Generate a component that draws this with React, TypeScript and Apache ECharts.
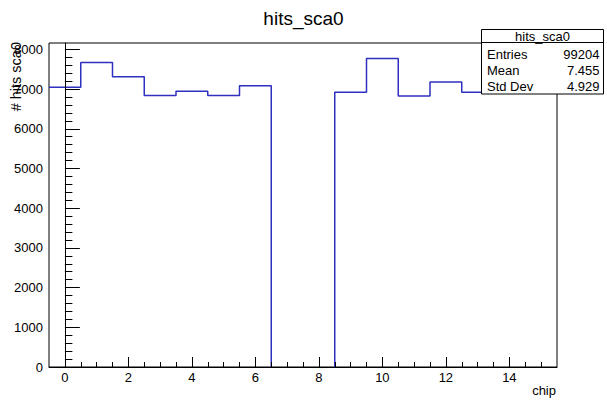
import React, { useEffect, useRef } from "react";
import * as echarts from "echarts";

// Histogram bins (chip number) and their contents
const chips = [0, 1, 2, 3, 4, 5, 6, 7, 8, 9, 10, 11, 12, 13, 14, 15];
const hits = [7048, 7671, 7309, 6835, 6947, 6835, 7081, 0, 0, 6922, 7772, 6828, 7175, 6922, 6900, 6960];

// Axis tick labels
const xTickLabels = [0, 2, 4, 6, 8, 10, 12, 14];
const yTickLabels = [0, 1000, 2000, 3000, 4000, 5000, 6000, 7000, 8000];

// Stats box
const statsTitle = "hits_sca0";
const statsNames = ["Entries", "Mean", "Std Dev"];
const statsValues = ["99204", "7.455", "4.929"];

const X_MIN = -0.5;
const X_MAX = 15.5;
const Y_MAX = 8160;

const FONT = "'Liberation Sans', Arial, Helvetica, sans-serif";

export default function App() {
  const ref = useRef<HTMLDivElement>(null);

  useEffect(() => {
    if (!ref.current) return;
    const chart = echarts.init(ref.current, undefined, { renderer: "svg" });

    // Step outline built from bin edges; empty bins lie on the axis (hidden under it)
    const stepData: any[] = [];
    chips.forEach((c, i) => {
      const v = hits[i];
      if (v === 0) {
        const prevZero = i > 0 && hits[i - 1] === 0;
        const nextZero = i < hits.length - 1 && hits[i + 1] === 0;
        if (!prevZero) stepData.push([c - 0.5, 0]);
        stepData.push([c, "-"]);
        if (!nextZero) stepData.push([c + 0.5, 0]);
      } else {
        stepData.push([c - 0.5, v]);
        stepData.push([c + 0.5, v]);
      }
    });

    const xMinor: number[] = [];
    for (let v = 0; v <= 15; v += 0.5) {
      if (!xTickLabels.includes(v)) xMinor.push(v);
    }
    const yMinor: number[] = [];
    for (let v = 0; v <= Y_MAX; v += 200) {
      if (v % 1000 !== 0) yMinor.push(v);
    }

    const statsGraphics: any[] = [
      {
        type: "rect",
        z: 100,
        shape: { x: 481.5, y: 29.5, width: 122, height: 64.5 },
        style: { fill: "#fff", stroke: "#000", lineWidth: 1 },
      },
      {
        type: "line",
        z: 101,
        shape: { x1: 481.5, y1: 42.5, x2: 603.5, y2: 42.5 },
        style: { stroke: "#000", lineWidth: 1 },
      },
      {
        type: "text",
        z: 101,
        x: 542.5,
        y: 36.5,
        style: {
          text: statsTitle,
          fill: "#000",
          font: `13px ${FONT}`,
          textAlign: "center",
          textVerticalAlign: "middle",
        },
      },
    ];
    const rowY = [54.5, 70.5, 86.5];
    statsNames.forEach((n, i) => {
      statsGraphics.push({
        type: "text",
        z: 101,
        x: 487,
        y: rowY[i],
        style: { text: n, fill: "#000", font: `13px ${FONT}`, textAlign: "left", textVerticalAlign: "middle" },
      });
      statsGraphics.push({
        type: "text",
        z: 101,
        x: 599.5,
        y: rowY[i],
        style: { text: statsValues[i], fill: "#000", font: `13px ${FONT}`, textAlign: "right", textVerticalAlign: "middle" },
      });
    });

    const plain = (v: number) => String(v);

    chart.setOption({
      animation: false,
      backgroundColor: "#fff",
      grid: {
        left: 49,
        right: 50,
        top: 43,
        bottom: 34,
        show: true,
        borderColor: "#000",
        borderWidth: 1,
        backgroundColor: "transparent",
      },
      xAxis: [
        {
          type: "value",
          min: X_MIN,
          max: X_MAX,
          position: "bottom",
          z: 5,
          axisLine: { show: true, lineStyle: { color: "#000", width: 1 } },
          splitLine: { show: false },
          axisTick: { show: true, inside: true, length: 10, customValues: xTickLabels, lineStyle: { color: "#000" } },
          axisLabel: { show: true, customValues: xTickLabels, formatter: plain, margin: 4, color: "#000", fontSize: 13, fontFamily: FONT },
        },
        {
          type: "value",
          min: X_MIN,
          max: X_MAX,
          position: "bottom",
          offset: 0,
          z: 5,
          axisLine: { show: false },
          splitLine: { show: false },
          axisTick: { show: true, inside: true, length: 5, customValues: xMinor, lineStyle: { color: "#000" } },
          axisLabel: { show: false },
        },
      ],
      yAxis: [
        {
          type: "value",
          min: 0,
          max: Y_MAX,
          position: "left",
          z: 5,
          axisLine: { show: true, lineStyle: { color: "#000", width: 1 } },
          splitLine: { show: false },
          axisTick: { show: true, inside: true, length: 15, customValues: yTickLabels, lineStyle: { color: "#000" } },
          axisLabel: { show: true, customValues: yTickLabels, formatter: plain, margin: 6, color: "#000", fontSize: 13, fontFamily: FONT },
        },
        {
          type: "value",
          min: 0,
          max: Y_MAX,
          position: "left",
          offset: 0,
          z: 5,
          axisLine: { show: false },
          splitLine: { show: false },
          axisTick: { show: true, inside: true, length: 7.5, customValues: yMinor, lineStyle: { color: "#000" } },
          axisLabel: { show: false },
        },
      ],
      series: [
        {
          type: "line",
          xAxisIndex: 0,
          yAxisIndex: 0,
          data: stepData,
          connectNulls: false,
          symbol: "none",
          lineStyle: { color: "#3030c0", width: 1.5 },
          z: 2,
        },
      ],
      graphic: [
        {
          type: "text",
          x: 303.5,
          y: 18,
          style: {
            text: "hits_sca0",
            fill: "#000",
            font: `19px ${FONT}`,
            textAlign: "center",
            textVerticalAlign: "middle",
          },
        },
        {
          type: "text",
          x: 16,
          y: 42,
          rotation: Math.PI / 2,
          style: {
            text: "# hits sca0",
            fill: "#000",
            font: `14.5px ${FONT}`,
            textAlign: "right",
            textVerticalAlign: "middle",
          },
        },
        {
          type: "text",
          x: 556,
          y: 390,
          style: {
            text: "chip",
            fill: "#000",
            font: `13px ${FONT}`,
            textAlign: "right",
            textVerticalAlign: "middle",
          },
        },
        ...statsGraphics,
      ],
    });

    return () => chart.dispose();
  }, []);

  return (
    <div
      ref={ref}
      style={{ position: "fixed", left: 0, top: 0, width: 607, height: 401, background: "#fff" }}
    />
  );
}
